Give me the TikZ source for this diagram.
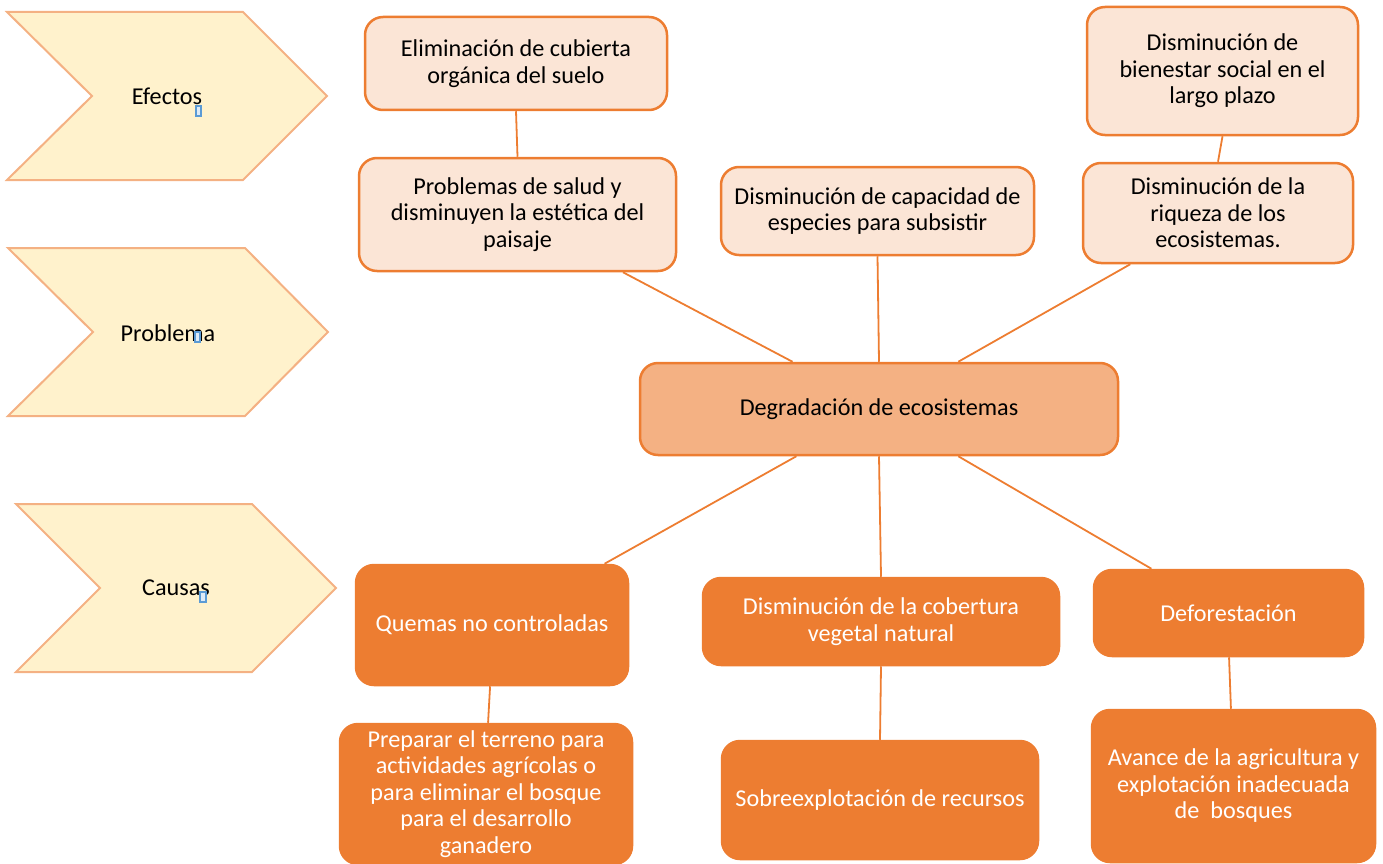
\documentclass[tikz,border=0pt]{standalone}
\usepackage{fontspec}
\setmainfont{Carlito}
\usetikzlibrary{calc}
\definecolor{chevfill}{HTML}{FFF2CC}
\definecolor{chevdraw}{HTML}{F4B183}
\definecolor{efill}{HTML}{FBE5D6}
\definecolor{corange}{HTML}{ED7D31}
\definecolor{cmain}{HTML}{F4B183}
\definecolor{iconblue}{HTML}{5B9BD5}
\definecolor{iconfill}{HTML}{DEEBF7}
\begin{document}
\begin{tikzpicture}[x=1pt,y=-1pt,
  txt/.style={font=\fontsize{24.2}{26.5}\selectfont, align=center, inner sep=0pt},
  box/.style={txt, rounded corners=18pt, line width=2.5pt},
  effect/.style={box, fill=efill, draw=corange, text=black},
  mainbox/.style={box, fill=cmain, draw=corange, text=black},
  cause/.style={box, fill=corange, draw=corange, text=white},
  link/.style={draw=corange, line width=1.8pt},
  chev/.style={fill=chevfill, draw=chevdraw, line width=2pt, line join=miter},
  icon/.style={draw=iconblue, fill=iconfill, line width=1.2pt}
]
\useasboundingbox (0,0) rectangle (1383,864);

% chevrons
\draw[chev] (7,12) -- (243,12) -- (327,96) -- (243,180) -- (7,180) -- (92,96) -- cycle;
\draw[chev] (8,248) -- (245,248) -- (328,332) -- (245,416) -- (8,416) -- (93,332) -- cycle;
\draw[chev] (16,504) -- (252,504) -- (336,588) -- (252,672) -- (16,672) -- (100,588) -- cycle;
\node[txt] (lef) at (167,96) {Efectos};
\node[txt] (lpr) at (168,333) {Problema};
\node[txt] (lca) at (176,588) {Causas};
\draw[icon] (196,106) rectangle (201,116);
\draw[icon] (195,332) rectangle (200,342);
\draw[icon] (200,592) rectangle (206,602);

% effects
\node[effect, minimum width=302pt, minimum height=93pt] (e1) at (516,63.5) {Eliminación de cubierta\\orgánica del suelo};
\node[effect, minimum width=317pt, minimum height=113pt] (e2) at (517.5,214.5) {Problemas de salud y\\disminuyen la estética del\\paisaje};
\node[effect, minimum width=313pt, minimum height=88pt] (e3) at (877.5,211) {Disminución de capacidad de\\especies para subsistir};
\node[effect, minimum width=271pt, minimum height=128pt] (e4) at (1222.5,71) {Disminución de\\bienestar social en el\\largo plazo};
\node[effect, minimum width=270pt, minimum height=100pt] (e5) at (1218,213) {Disminución de la\\riqueza de los\\ecosistemas.};

% main problem
\node[mainbox, minimum width=478pt, minimum height=92pt] (deg) at (879,409) {Degradación de ecosistemas};

% causes
\node[cause, minimum width=272pt, minimum height=120pt] (c1) at (492,625) {Quemas no controladas};
\node[cause, minimum width=292pt, minimum height=140pt] (c1b) at (486,794) {Preparar el terreno para\\actividades agrícolas o\\para eliminar el bosque\\para el desarrollo\\ganadero};
\node[cause, minimum width=356pt, minimum height=87pt] (c2) at (881,621.5) {Disminución de la cobertura\\vegetal natural};
\node[cause, minimum width=316pt, minimum height=118pt] (c2b) at (880,800) {Sobreexplotación de recursos};
\node[cause, minimum width=269pt, minimum height=86pt] (c3) at (1228.5,613) {Deforestación};
\node[cause, minimum width=283pt, minimum height=152pt] (c3b) at (1233.5,786) {Avance de la agricultura y\\explotación inadecuada\\de~ bosques};

% connectors
\draw[link] (e1.south) -- (e2.north);
\draw[link] ($(e2.south west)!0.83!(e2.south east)$) -- ($(deg.north west)!0.32!(deg.north east)$);
\draw[link] (e3.south) -- (deg.north);
\draw[link] ($(e5.south west)!0.178!(e5.south east)$) -- ($(deg.north west)!0.665!(deg.north east)$);
\draw[link] (e4.south) -- (e5.north);
\draw[link] ($(deg.south west)!0.328!(deg.south east)$) -- ($(c1.north west)!0.91!(c1.north east)$);
\draw[link] (deg.south) -- (c2.north);
\draw[link] ($(deg.south west)!0.665!(deg.south east)$) -- ($(c3.north west)!0.216!(c3.north east)$);
\draw[link] ($(c1.south west)!0.493!(c1.south east)$) -- ($(c1b.north west)!0.507!(c1b.north east)$);
\draw[link] (c2.south) -- (c2b.north);
\draw[link] ($(c3.south west)!0.502!(c3.south east)$) -- ($(c3b.north west)!0.491!(c3b.north east)$);
\end{tikzpicture}
\end{document}
